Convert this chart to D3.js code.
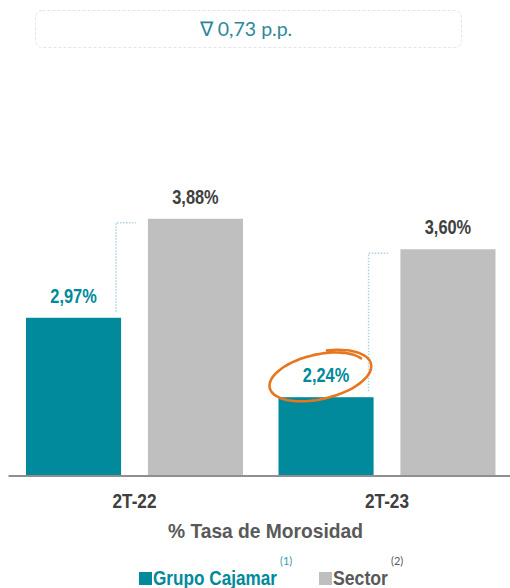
<!DOCTYPE html>
<html>
<head>
<meta charset="utf-8">
<script src="https://cdn.jsdelivr.net/npm/d3@7"></script>
<style>
  html, body { margin: 0; padding: 0; background: #ffffff; }
  svg { display: block; }
  .narrow { font-family: "Liberation Sans Narrow", "Arial Narrow", "Liberation Sans", Arial, sans-serif; font-weight: bold; }
</style>
</head>
<body>
<svg id="chart" width="510" height="588"></svg>
<script>
// ---- data ----
const categories = ["2T-22", "2T-23"];
const seriesNames = ["Grupo Cajamar", "Sector"];
const grupoValues = [2.97, 2.24];
const sectorValues = [3.88, 3.60];
const footnotes = ["(1)", "(2)"];
const deltaText = "\u2207 0,73 p.p.";
const axisTitle = "% Tasa de Morosidad";

// ---- styles ----
const colors = { "Grupo Cajamar": "#008a9b", "Sector": "#bfbfbf" };
const labelColors = { "Grupo Cajamar": "#008a9b", "Sector": "#404040" };
const legendTextColors = { "Grupo Cajamar": "#008a9b", "Sector": "#595959" };

const svg = d3.select("#chart");
const baseY = 475;

// condense text horizontally (Arial Narrow look)
function condense(sel, factor) {
  sel.each(function() {
    const w = this.getComputedTextLength();
    d3.select(this).attr("textLength", w * factor).attr("lengthAdjust", "spacingAndGlyphs");
  });
}
function fitWidth(sel, width) {
  sel.attr("textLength", width).attr("lengthAdjust", "spacingAndGlyphs");
}

const rows = categories.map((c, i) => ({
  cat: c,
  values: [
    { key: seriesNames[0], value: grupoValues[i] },
    { key: seriesNames[1], value: sectorValues[i] }
  ]
}));

const x0 = d3.scaleBand().domain(categories).range([8, 513.5]).paddingInner(0.1406).paddingOuter(0.0713);
const x1 = d3.scaleBand().domain(seriesNames).range([0, x0.bandwidth()]).paddingInner(0.22);
const y = d3.scaleLinear().domain([1.525, 4.0]).range([baseY, baseY - 2.475 * 108.8]);

const fmt = d3.formatLocale({ decimal: ",", thousands: ".", grouping: [3], currency: ["", "%"] }).format(".2f");

// ---- top box ----
svg.append("rect")
  .attr("x", 35.5).attr("y", 10.5).attr("width", 426).attr("height", 37)
  .attr("rx", 7).attr("ry", 7)
  .attr("fill", "#ffffff").attr("stroke", "#e4e4e4").attr("stroke-width", 1)
  .attr("stroke-dasharray", "3,2");
svg.append("text")
  .attr("x", 246).attr("y", 35.5)
  .attr("text-anchor", "middle")
  .attr("font-family", "Lato, 'Open Sans', sans-serif")
  .attr("font-size", 19.5)
  .attr("fill", "#2f879c")
  .text(deltaText);

// ---- bars ----
const groups = svg.append("g").selectAll("g").data(rows).join("g")
  .attr("transform", d => `translate(${x0(d.cat)},0)`);

groups.selectAll("rect").data(d => d.values).join("rect")
  .attr("x", d => x1(d.key))
  .attr("y", d => y(d.value))
  .attr("width", x1.bandwidth())
  .attr("height", d => baseY - y(d.value))
  .attr("fill", d => colors[d.key]);

groups.selectAll("text.val").data(d => d.values).join("text")
  .attr("class", "val narrow")
  .attr("x", d => x1(d.key) + x1.bandwidth() / 2)
  .attr("y", d => y(d.value) - 15)
  .attr("text-anchor", "middle")
  .attr("font-size", 19.5)
  .attr("fill", d => labelColors[d.key])
  .text(d => fmt(d.value) + "%")
  .call(condense, 0.84);

// ---- dotted connectors ----
groups.append("path")
  .attr("fill", "none")
  .attr("stroke", "#a9d6de")
  .attr("stroke-width", 1.5)
  .attr("stroke-dasharray", "1.5,1.5")
  .attr("d", d => {
    const gx = x1(seriesNames[0]) + x1.bandwidth() - 5;
    const topS = y(d.values[1].value) + 4;
    const topG = y(d.values[0].value) - 6;
    const endX = x1(seriesNames[1]) - 12;
    return `M${gx},${topG} L${gx},${topS} L${endX},${topS}`;
  });

// ---- orange hand-drawn ellipse around highlighted value ----
{
  const i = 1;
  const cx = x0(categories[i]) + x1(seriesNames[0]) + x1.bandwidth() / 2 - 7;
  const cy = y(grupoValues[i]) - 21;
  const rx = 52, ry = 23, rot = -13 * Math.PI / 180;
  const pts = [];
  const n = 70;
  for (let k = 0; k <= n; k++) {
    const t = -0.42 * Math.PI + (k / n) * 2.3 * Math.PI;
    const s = 1.05 - 0.12 * (k / n);
    const ex = rx * s * Math.cos(t), ey = ry * s * Math.sin(t);
    pts.push([cx + ex * Math.cos(rot) - ey * Math.sin(rot), cy + ex * Math.sin(rot) + ey * Math.cos(rot)]);
  }
  svg.append("path")
    .attr("d", d3.line().curve(d3.curveBasis)(pts.reverse()))
    .attr("fill", "none")
    .attr("stroke", "#e8761f")
    .attr("stroke-width", 2.6)
    .attr("stroke-linecap", "round");
}

// ---- x axis ----
const xAxis = svg.append("g")
  .attr("transform", `translate(0,${baseY + 0.5})`)
  .call(d3.axisBottom(x0).tickSize(0).tickPadding(19));
xAxis.select(".domain").attr("stroke", "#8f8f8f").attr("stroke-width", 2);
xAxis.selectAll("text")
  .attr("class", "narrow")
  .attr("font-size", 19.5)
  .attr("fill", "#404040")
  .call(fitWidth, 44);

svg.append("text")
  .attr("class", "narrow")
  .attr("x", 265.5).attr("y", 538)
  .attr("text-anchor", "middle")
  .attr("font-size", 21)
  .attr("fill", "#595959")
  .text(axisTitle)
  .call(fitWidth, 195);

// ---- legend ----
const legendX = [139, 319];
const legendW = [124, 55];
const legend = svg.append("g").selectAll("g").data(seriesNames).join("g")
  .attr("transform", (d, i) => `translate(${legendX[i]},572)`);
legend.append("rect")
  .attr("width", 13).attr("height", 13)
  .attr("fill", d => colors[d]);
legend.append("text")
  .attr("class", "narrow")
  .attr("x", 14).attr("y", 13)
  .attr("font-size", 20.5)
  .attr("fill", d => legendTextColors[d])
  .text(d => d)
  .each(function(d, i) {
    d3.select(this).call(fitWidth, legendW[i]);
    d3.select(this.parentNode).append("text")
      .attr("x", 14 + legendW[i] + 3).attr("y", -7)
      .attr("font-family", "Lato, 'Open Sans', sans-serif")
      .attr("font-size", 11)
      .attr("fill", i === 0 ? "#3a9aa8" : "#595959")
      .text(footnotes[i]);
  });
</script>
</body>
</html>
